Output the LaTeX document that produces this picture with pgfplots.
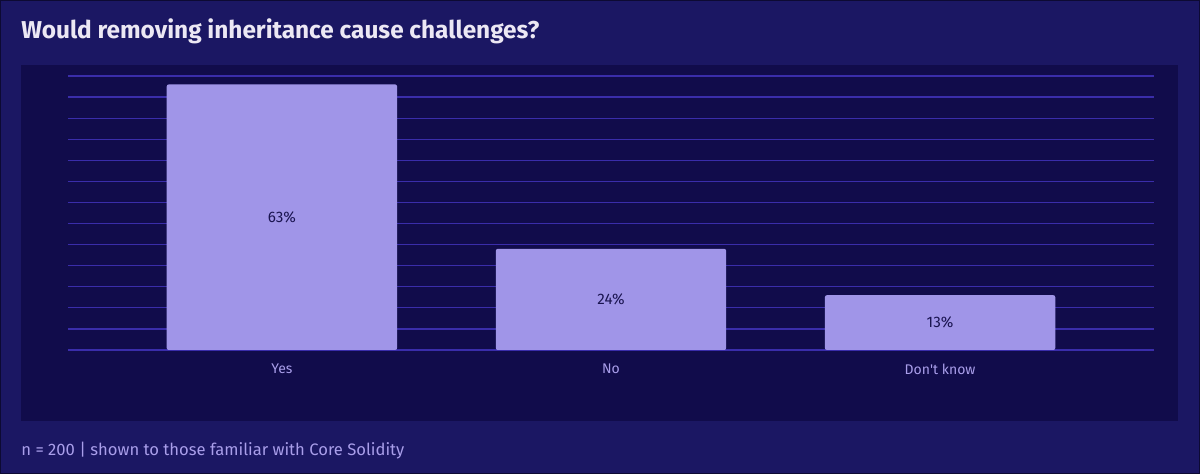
\documentclass[border=0pt]{standalone}
\usepackage{pgfplots}
\pgfplotsset{compat=1.18}
\usepackage{fontspec}
\setmainfont{Fira Sans}
\definecolor{outerbg}{HTML}{1B1763}
\definecolor{panelbg}{HTML}{110C4B}
\definecolor{edge}{HTML}{0D0A33}
\definecolor{gridc}{HTML}{3A2DAA}
\definecolor{barc}{HTML}{A095E8}
\definecolor{titlec}{HTML}{ECE8F4}
\definecolor{labelc}{HTML}{A99EEA}
\definecolor{valc}{HTML}{1A1450}
\begin{document}
\begin{tikzpicture}
% page: 1200 x 474 px, 1 px = 0.5pt
\begin{scope}[x=0.5pt,y=0.5pt]
\fill[edge] (0,0) rectangle (1200,474);
\fill[outerbg] (1,1) rectangle (1199,473);
\fill[panelbg] (21,53) rectangle (1178,409);
\node[anchor=base west, inner sep=0pt, text=titlec, font=\fontsize{12.2}{14}\selectfont\bfseries] at (21,435) {Would removing inheritance cause challenges?};
\node[anchor=base west, inner sep=0pt, text=labelc, font=\fontsize{8.3}{10}\selectfont] at (21,18) {n = 200 | shown to those familiar with Core Solidity};
\end{scope}
\begin{axis}[
    at={(34pt,62pt)}, anchor=south west,
    width=543pt, height=137pt,
    scale only axis,
    xmin=-0.65, xmax=2.65,
    ymin=0, ymax=65,
    ytick={0,5,...,65},
    yticklabels={},
    xtick={0,1,2},
    xticklabels={Yes,No,Don\textquotesingle t know},
    xticklabel style={text=labelc, font=\fontsize{7}{8}\selectfont, yshift=-3.5pt},
    major tick length=0pt,
    axis line style={draw=none},
    ymajorgrids=true,
    grid style={gridc, line width=0.6pt},
    clip=false,
]
\addplot[ybar, bar width=0.7, fill=barc, draw=none, rounded corners=1pt]
    coordinates {(0,63) (1,24) (2,13)};
\addplot[draw=none, mark=none, nodes near coords, point meta=explicit symbolic,
    every node near coord/.style={anchor=center, text=valc, font=\fontsize{7.6}{9}\selectfont}]
    coordinates {(0,31.5) [63\%] (1,12) [24\%] (2,6.5) [13\%]};
\end{axis}
\end{tikzpicture}
\end{document}
